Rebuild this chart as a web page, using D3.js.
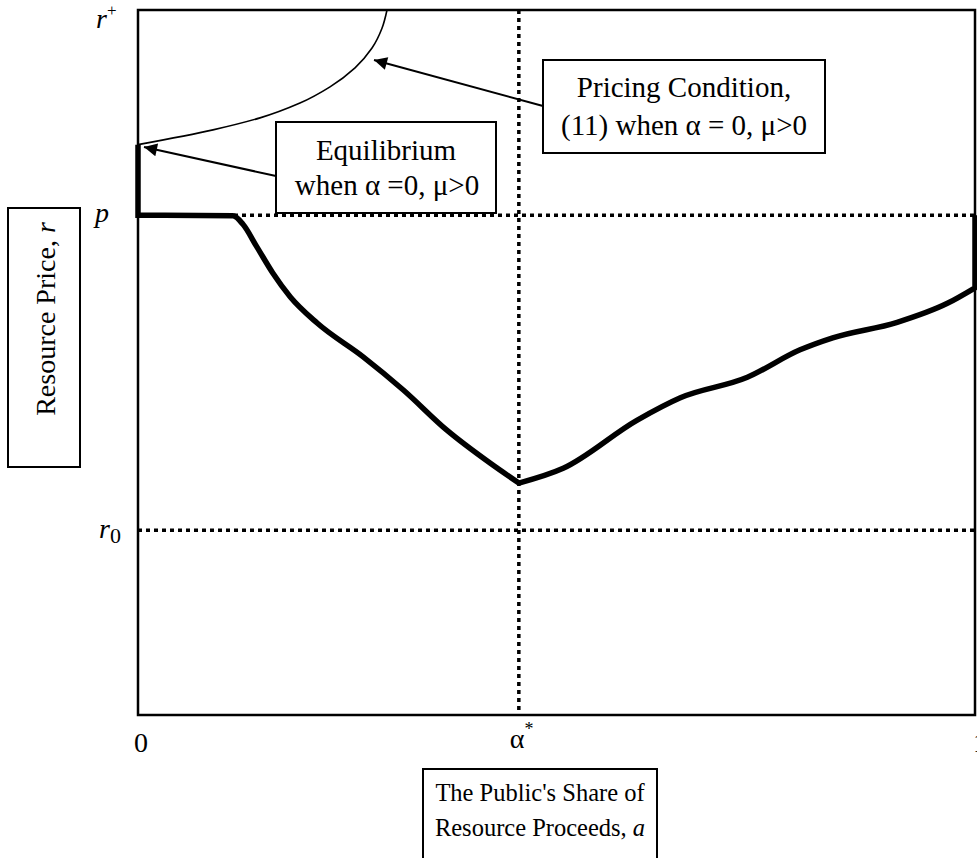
<!DOCTYPE html>
<html>
<head>
<meta charset="utf-8">
<script src="https://cdn.jsdelivr.net/npm/d3@7"></script>
<style>
  html, body { margin: 0; padding: 0; background: #fff; }
  svg { display: block; }
  text { font-family: "Liberation Serif", "Times New Roman", serif; fill: #000; }
</style>
</head>
<body>
<script>
// ---- Data (x: public's share α in [0,1], y: resource price on a 0..1 scale) ----
const xDomain = [0, 1];
const yDomain = [0, 1];
const alphaStar = 0.455;
const pLevel = 0.709;
const r0Level = 0.262;
const rPlusLevel = 1.0;

// Equilibrium path (thick): vertical at α=0, smooth descent to α*, rise to α=1, vertical at α=1
const eqLeftX = [0, 0.1135, 0.1254, 0.142, 0.161, 0.182, 0.214, 0.269, 0.317, 0.369, 0.421, 0.455];
const eqLeftY = [0.709, 0.708, 0.696, 0.664, 0.627, 0.593, 0.556, 0.508, 0.461, 0.404, 0.357, 0.329];
const eqRightX = [0.455, 0.508, 0.596, 0.648, 0.728, 0.791, 0.830, 0.907, 0.967, 1.0];
const eqRightY = [0.329, 0.350, 0.418, 0.450, 0.479, 0.518, 0.535, 0.557, 0.584, 0.606];
const eqStartTop = 0.809;   // top of vertical at α = 0
const eqEndTop = 0.709;     // top of vertical at α = 1

// Pricing condition (11) when α = 0, μ>0 (thin)
const pcX = [0, 0.0896, 0.1458, 0.1935, 0.2294, 0.2593, 0.2796, 0.2915, 0.2975];
const pcY = [0.809, 0.830, 0.847, 0.868, 0.891, 0.918, 0.946, 0.974, 1.0];

// Tick labels
const xTickVals = [0, alphaStar, 1];
const yTickNames = ["rPlus", "p", "r0"];

// ---- Layout ----
const W = 977, H = 858;
const plot = { left: 138, right: 975, top: 10, bottom: 715 };

const svg = d3.select("body").append("svg").attr("width", W).attr("height", H);

const x = d3.scaleLinear().domain(xDomain).range([plot.left, plot.right]);
const y = d3.scaleLinear().domain(yDomain).range([plot.bottom, plot.top]);

// Arrow marker
const defs = svg.append("defs");
defs.append("marker")
  .attr("id", "arrow")
  .attr("viewBox", "0 0 10 10")
  .attr("refX", 10).attr("refY", 5)
  .attr("markerWidth", 18).attr("markerHeight", 13)
  .attr("markerUnits", "userSpaceOnUse")
  .attr("orient", "auto")
  .append("path").attr("d", "M0,0 L10,5 L0,10 Z").attr("fill", "#000");

// Dotted reference lines
const dotted = { stroke: "#000", "stroke-width": 3.5, "stroke-dasharray": "4,4" };
function applyAttrs(sel, o) { Object.entries(o).forEach(([k, v]) => sel.attr(k, v)); return sel; }

applyAttrs(svg.append("line")
  .attr("x1", x(0)).attr("x2", x(1)).attr("y1", y(pLevel)).attr("y2", y(pLevel)), dotted);
applyAttrs(svg.append("line")
  .attr("x1", x(0)).attr("x2", x(1)).attr("y1", y(r0Level)).attr("y2", y(r0Level)), dotted);
applyAttrs(svg.append("line")
  .attr("x1", x(alphaStar)).attr("x2", x(alphaStar)).attr("y1", y(1)).attr("y2", y(0)), dotted);

// Frame
svg.append("rect")
  .attr("x", plot.left).attr("y", plot.top)
  .attr("width", plot.right - plot.left).attr("height", plot.bottom - plot.top)
  .attr("fill", "none").attr("stroke", "#000").attr("stroke-width", 2.5);

// Pricing condition curve
const pcLine = d3.line().x(d => x(d[0])).y(d => y(d[1])).curve(d3.curveMonotoneY);
svg.append("path")
  .datum(d3.zip(pcX, pcY))
  .attr("d", pcLine)
  .attr("fill", "none").attr("stroke", "#000").attr("stroke-width", 1.6);

// Equilibrium curve
const smooth = d3.line().x(d => x(d[0])).y(d => y(d[1])).curve(d3.curveMonotoneX);
const eqStyle = sel => sel.attr("fill", "none").attr("stroke", "#000")
  .attr("stroke-width", 5.5).attr("stroke-linejoin", "miter");

const leftPts = d3.zip(eqLeftX, eqLeftY);
const rightPts = d3.zip(eqRightX, eqRightY);
const leftPath = "M" + x(0) + "," + y(eqStartTop) + "L" + smooth(leftPts).slice(1);
svg.append("path").attr("d", leftPath).call(eqStyle);
const rightPath = smooth(rightPts) + "L" + x(1) + "," + y(eqEndTop);
svg.append("path").attr("d", rightPath).call(eqStyle);

// ---- Axis labels (custom ticks) ----
const fs = 28;
svg.append("text").attr("x", x(xTickVals[0]) + 3).attr("y", 752)
  .attr("text-anchor", "middle").attr("font-size", fs).text("0");
const as = svg.append("text").attr("x", x(xTickVals[1]) - 9).attr("y", 748)
  .attr("font-size", fs);
as.append("tspan").text("α");
as.append("tspan").attr("dy", -13).attr("font-size", 18).text("*");
svg.append("text").attr("x", x(xTickVals[2]) + 5).attr("y", 752)
  .attr("text-anchor", "middle").attr("font-size", fs).text("1");

const yLab = {
  rPlus: { v: rPlusLevel, dy: 18 },
  p: { v: pLevel, dy: 7 },
  r0: { v: r0Level, dy: 8 }
};
yTickNames.forEach(name => {
  const info = yLab[name];
  const t = svg.append("text").attr("x", 96).attr("y", y(info.v) + info.dy).attr("font-size", fs);
  if (name === "rPlus") {
    t.append("tspan").attr("font-style", "italic").text("r");
    t.append("tspan").attr("dy", -12).attr("font-size", 17).text("+");
  } else if (name === "p") {
    t.attr("x", 95);
    t.append("tspan").attr("font-style", "italic").text("p");
  } else {
    t.attr("x", 99);
    t.append("tspan").attr("font-style", "italic").text("r");
    t.append("tspan").attr("dy", 5).attr("font-size", 22).text("0");
  }
});

// ---- Boxes with text ----
function box(x0, y0, w, h) {
  svg.append("rect").attr("x", x0).attr("y", y0).attr("width", w).attr("height", h)
    .attr("fill", "#fff").attr("stroke", "#000").attr("stroke-width", 2);
}

// Y-axis title box
box(8, 208, 72, 259);
const yt = svg.append("text")
  .attr("transform", "translate(55,319) rotate(-90)")
  .attr("text-anchor", "middle").attr("font-size", fs);
yt.append("tspan").text("Resource Price, ");
yt.append("tspan").attr("font-style", "italic").text("r");

// X-axis title box
const xfs = 24.5;
box(423, 769, 234, 100);
svg.append("text").attr("x", 540).attr("y", 801).attr("text-anchor", "middle")
  .attr("font-size", xfs).text("The Public's Share of");
const xt = svg.append("text").attr("x", 540).attr("y", 836).attr("text-anchor", "middle")
  .attr("font-size", xfs);
xt.append("tspan").text("Resource Proceeds, ");
xt.append("tspan").attr("font-style", "italic").text("a");

// Annotation arrows
svg.append("line").attr("x1", 543).attr("y1", 106).attr("x2", 374).attr("y2", 60)
  .attr("stroke", "#000").attr("stroke-width", 2).attr("marker-end", "url(#arrow)");
svg.append("line").attr("x1", 276).attr("y1", 176).attr("x2", 144).attr("y2", 147)
  .attr("stroke", "#000").attr("stroke-width", 2).attr("marker-end", "url(#arrow)");

// Equilibrium box
const afs = 29;
box(276, 122, 220, 91);
svg.append("text").attr("x", 386).attr("y", 160).attr("text-anchor", "middle")
  .attr("font-size", afs).text("Equilibrium");
svg.append("text").attr("x", 387).attr("y", 195).attr("text-anchor", "middle")
  .attr("font-size", afs).text("when α =0, μ>0");

// Pricing condition box
box(543, 60, 282, 93);
svg.append("text").attr("x", 684).attr("y", 97).attr("text-anchor", "middle")
  .attr("font-size", afs).text("Pricing Condition,");
svg.append("text").attr("x", 684).attr("y", 135).attr("text-anchor", "middle")
  .attr("font-size", afs).text("(11) when α = 0, μ>0");
</script>
</body>
</html>
